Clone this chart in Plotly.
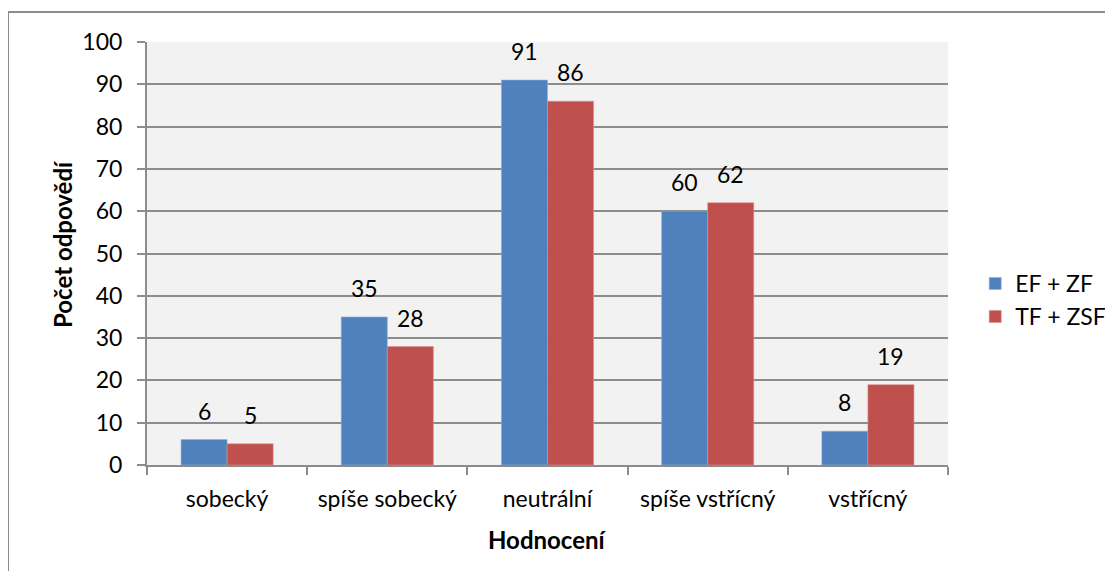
import plotly.graph_objects as go

categories = ["sobecký", "spíše sobecký", "neutrální", "spíše vstřícný", "vstřícný"]
series1_name = "EF + ZF"
series1 = [6, 35, 91, 60, 8]
series2_name = "TF + ZSF"
series2 = [5, 28, 86, 62, 19]
y_ticks = [0, 10, 20, 30, 40, 50, 60, 70, 80, 90, 100]
x_title = "Hodnocení"
y_title = "Počet odpovědí"

# page body has an 8px margin on all sides, so the figure is drawn at (8, 8)
OFF = 8
W, H = 1113 - 2 * OFF, 581 - 2 * OFF - 2
L, T = 147 - OFF, 42 - OFF
pw, ph = 801, 423
R, B = W - L - pw, H - T - ph

font = "Lato, Carlito, 'Liberation Sans', sans-serif"
fs = 23

fig = go.Figure()
series = [(series1_name, series1, "#4F81BD", "#8EB0DA", -1),
          (series2_name, series2, "#C0504D", "#DB8E8C", 1)]
bar_half = 23  # half bar width in px, for centring labels on bars
for name, vals, col, lcol, side in series:
    fig.add_trace(go.Bar(
        x=categories, y=vals, name=name,
        marker=dict(color=col, line=dict(color=lcol, width=0.6)),
    ))
    for c, v in zip(categories, vals):
        fig.add_annotation(x=c, y=v, text=str(v), showarrow=False,
                           xanchor="center", yanchor="bottom",
                           xshift=side * bar_half, yshift=13,
                           font=dict(size=fs, color="#000000", family=font))

# axis titles
fig.add_annotation(text=f"<b>{y_title}</b>", xref="paper", yref="paper",
                   x=(62 - 147) / pw, y=(465 - 244) / ph, textangle=-90,
                   xanchor="center", yanchor="middle", showarrow=False,
                   font=dict(size=24, family=font, color="#000000"))
fig.add_annotation(text=f"<b>{x_title}</b>", xref="paper", yref="paper",
                   x=0.5, y=-(539 - 465) / ph,
                   xanchor="center", yanchor="middle", showarrow=False,
                   font=dict(size=24, family=font, color="#000000"))

# outer chart border: only left and top edges are inside the picture
bx = (0 - L) / pw
by_top = (H - 4 - B) / ph
by_bot = -(H + 40 - T - ph) / ph
fig.add_shape(type="line", xref="paper", yref="paper",
              x0=bx, x1=bx, y0=by_bot, y1=by_top,
              line=dict(color="#8C8C8C", width=2), layer="below")
fig.add_shape(type="line", xref="paper", yref="paper",
              x0=bx, x1=(W + 40 - L) / pw, y0=by_top, y1=by_top,
              line=dict(color="#8C8C8C", width=2), layer="below")

fig.update_layout(
    width=W, height=H,
    margin=dict(l=L, r=R, t=T, b=B, pad=0, autoexpand=False),
    paper_bgcolor="white", plot_bgcolor="#F2F2F2",
    barmode="group", bargap=0.425, bargroupgap=0,
    font=dict(family=font, size=fs, color="#000000"),
    showlegend=True,
    legend=dict(x=1.034, y=0.39, xanchor="left", yanchor="middle",
                font=dict(size=23, family=font), itemwidth=30,
                tracegroupgap=43, bgcolor="rgba(0,0,0,0)"),
    xaxis=dict(
        showgrid=False, showline=True, linecolor="#8C8C8C", linewidth=2,
        ticks="outside", tickson="boundaries", ticklen=8, tickcolor="#8C8C8C", tickwidth=2,
        tickfont=dict(size=23, family=font), range=[-0.5, 4.5], ticklabelstandoff=12,
        tickangle=0, automargin=False,
    ),
    yaxis=dict(
        range=[0, 100], tickvals=y_ticks, showgrid=True, gridcolor="#8C8C8C", gridwidth=2,
        showline=True, linecolor="#8C8C8C", linewidth=2,
        ticks="outside", ticklen=8, tickcolor="#8C8C8C", tickwidth=2,
        tickfont=dict(size=fs, family=font), zeroline=False, ticklabelstandoff=10,
        automargin=False,
    ),
)

fig.write_html("out.html")
